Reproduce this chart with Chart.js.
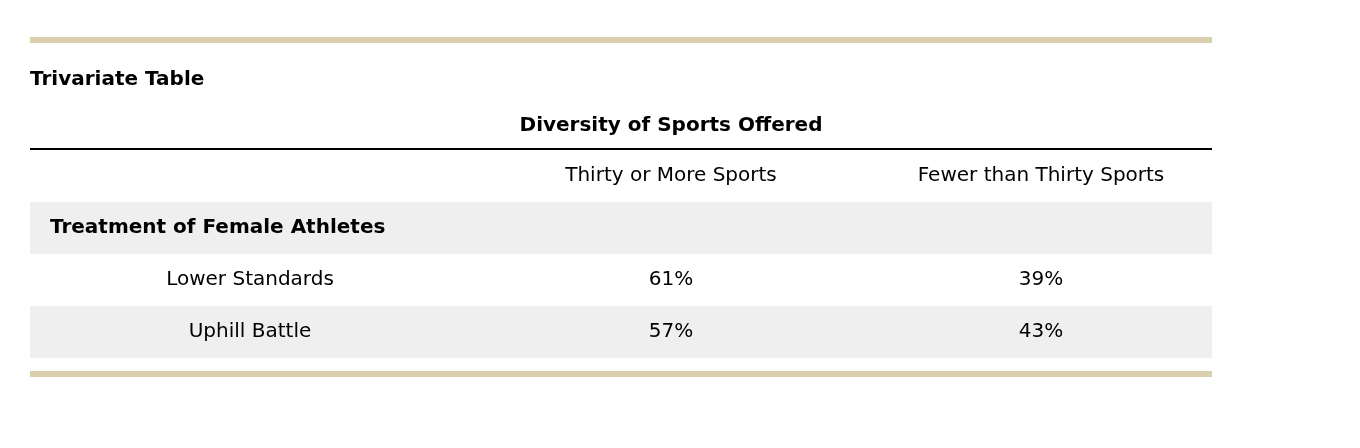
<!DOCTYPE html>
<html><head><meta charset="utf-8">
<script src="https://cdn.jsdelivr.net/npm/chart.js@4/dist/chart.umd.min.js"></script>
<style>html,body{margin:0;padding:0;background:#fff}</style>
</head><body>
<canvas id="c" width="1360" height="448"></canvas>
<script>
const title = "Trivariate Table";
const columnGroup = "Diversity of Sports Offered";
const columns = ["Thirty or More Sports", "Fewer than Thirty Sports"];
const rowGroup = "Treatment of Female Athletes";
const rows = ["Lower Standards", "Uphill Battle"];
const thirtyOrMore = [61, 57];
const fewerThanThirty = [39, 43];

const FONT = '"DejaVu Sans", Verdana, sans-serif';
const L = 30, R = 1212;
const colX = [250, 671, 1041];

const tablePlugin = {
  id: 'table',
  afterDraw(chart) {
    const ctx = chart.ctx, xs = chart.scales.x, ys = chart.scales.y;
    const X = v => xs.getPixelForValue(v), Y = v => ys.getPixelForValue(v);
    const rect = (x0, y0, x1, y1, c) => { ctx.fillStyle = c; ctx.fillRect(X(x0), Y(y0), X(x1) - X(x0), Y(y1) - Y(y0)); };
    const text = (s, x, y, align, bold) => {
      ctx.font = (bold ? 'bold ' : '') + '20px ' + FONT;
      ctx.fillStyle = '#000'; ctx.textAlign = align; ctx.textBaseline = 'middle';
      ctx.fillText(s, X(x), Y(y));
    };
    ctx.save();
    rect(L, 37, R, 43, '#d9cfab');
    text(title, L, 80, 'left', true);
    text(columnGroup, 671, 126, 'center', true);
    rect(L, 148, R, 150, '#000');
    columns.forEach((c, i) => text(c, colX[i + 1], 176, 'center', false));
    rect(L, 202, R, 254, '#efefef');
    text(rowGroup, 50, 228, 'left', true);
    rows.forEach((r, i) => {
      const top = 254 + i * 52;
      if (i % 2 === 1) rect(L, top, R, top + 52, '#efefef');
      const cy = top + 26;
      text(r, colX[0], cy, 'center', false);
      text(thirtyOrMore[i] + '%', colX[1], cy, 'center', false);
      text(fewerThanThirty[i] + '%', colX[2], cy, 'center', false);
    });
    rect(L, 371, R, 377, '#d9cfab');
    ctx.restore();
  }
};

new Chart(document.getElementById('c'), {
  type: 'scatter',
  data: { datasets: [{ data: [] }] },
  options: {
    responsive: false, animation: false, devicePixelRatio: 1,
    layout: { padding: 0 },
    plugins: { legend: { display: false }, tooltip: { enabled: false } },
    scales: {
      x: { type: 'linear', min: 0, max: 1360, display: false },
      y: { type: 'linear', min: 0, max: 448, reverse: true, display: false }
    }
  },
  plugins: [tablePlugin]
});
</script>
</body></html>
